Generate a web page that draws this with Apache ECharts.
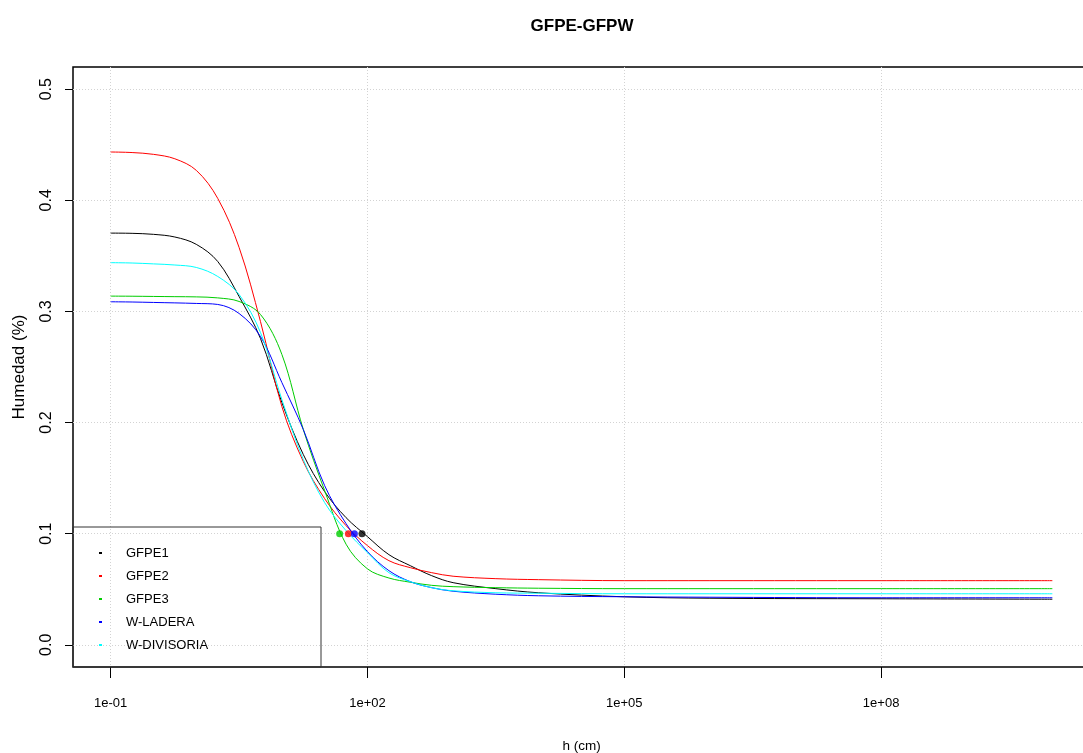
<!DOCTYPE html>
<html>
<head>
<meta charset="utf-8">
<script src="https://cdn.jsdelivr.net/npm/echarts@6/dist/echarts.min.js"></script>
<style>
html, body { margin: 0; padding: 0; background: #fff; overflow: hidden; }
#main { width: 1083px; height: 753px; }
</style>
</head>
<body>
<div id="main"></div>
<script>
// presion h (cm)
var hValues = [0.1, 0.178, 0.316, 0.562, 1, 1.78, 3.16, 5.62, 10, 17.8, 31.6, 56.2, 100, 178, 316, 562, 1000, 3160, 10000, 1e5, 1e6, 1e8, 1e10];

// humedad de cada curva en esos h
var gfpe1 = [0.3705, 0.3703, 0.3694, 0.3670, 0.3604, 0.3450, 0.3135, 0.2757, 0.2180, 0.1712, 0.1378, 0.1144, 0.0973, 0.0811, 0.0712, 0.0622, 0.0559, 0.0505, 0.0468, 0.0432, 0.0419, 0.0414, 0.0410];
var gfpe2 = [0.4435, 0.4430, 0.4414, 0.4374, 0.4270, 0.4018, 0.3577, 0.2910, 0.2144, 0.1649, 0.1315, 0.1072, 0.0892, 0.0757, 0.0694, 0.0649, 0.0617, 0.0595, 0.0586, 0.0577, 0.0577, 0.0577, 0.0577];
var gfpe3 = [0.3138, 0.3137, 0.3135, 0.3133, 0.3131, 0.3122, 0.3090, 0.2973, 0.2613, 0.1937, 0.1387, 0.0905, 0.0683, 0.0601, 0.0563, 0.0535, 0.0523, 0.0514, 0.0509, 0.0505, 0.0505, 0.0505, 0.0505];
var wLadera = [0.3087, 0.3085, 0.3081, 0.3077, 0.3072, 0.3063, 0.2982, 0.2775, 0.2360, 0.1937, 0.1432, 0.1090, 0.0838, 0.0667, 0.0568, 0.0514, 0.0482, 0.0455, 0.0441, 0.0432, 0.0428, 0.0423, 0.0423];
var wDivisoria = [0.3439, 0.3436, 0.3428, 0.3418, 0.3396, 0.3315, 0.3153, 0.2811, 0.2207, 0.1667, 0.1279, 0.1027, 0.0829, 0.0649, 0.0568, 0.0514, 0.0486, 0.0468, 0.0464, 0.0459, 0.0459, 0.0459, 0.0459];

var seriesNames = ["GFPE1", "GFPE2", "GFPE3", "W-LADERA", "W-DIVISORIA"];
var seriesColors = ["#000000", "#ff0000", "#00cd00", "#0000ff", "#00ffff"];

// puntos marcados sobre theta = 0.1
var pointH = [86.3, 59.8, 47.3, 70.3];
var pointTheta = [0.1, 0.1, 0.1, 0.1];

var xTicks = [0.1, 100, 1e5, 1e8];
var yTicks = [0, 0.1, 0.2, 0.3, 0.4, 0.5];

var font = "'Liberation Sans', Arial, sans-serif";

function expLabel(v) {
    var e = Math.round(Math.log10(v));
    var a = Math.abs(e);
    return '1e' + (e < 0 ? '-' : '+') + (a < 10 ? '0' + a : a);
}

function toPairs(arr) {
    var out = [];
    for (var i = 0; i < hValues.length; i++) {
        out.push([hValues[i], arr[i]]);
    }
    return out;
}

var curves = [gfpe1, gfpe2, gfpe3, wLadera, wDivisoria];
var series = [];
for (var i = 0; i < curves.length; i++) {
    series.push({
        name: seriesNames[i],
        type: 'line',
        data: toPairs(curves[i]),
        showSymbol: false,
        smooth: 0.35,
        color: seriesColors[i],
        lineStyle: { width: 1, color: seriesColors[i] },
        z: 3
    });
}

var pts = [];
for (var j = 0; j < pointH.length; j++) {
    pts.push({ value: [pointH[j], pointTheta[j]], itemStyle: { color: seriesColors[j] } });
}
series.push({
    name: 'puntos',
    type: 'scatter',
    data: pts,
    symbol: 'circle',
    symbolSize: 7,
    z: 4
});

var chart = echarts.init(document.getElementById("main"));
var option = {
    backgroundColor: '#ffffff',
    animation: false,
    title: {
        text: 'GFPE-GFPW',
        left: 577,
        textAlign: 'center',
        top: 13,
        textStyle: { fontFamily: font, fontSize: 17, fontWeight: 'bold', color: '#000' }
    },
    grid: {
        left: 73,
        right: -7,
        top: 67,
        bottom: 86,
        outerBoundsMode: 'none',
        show: true,
        borderColor: '#000',
        borderWidth: 1.5
    },
    legend: {
        data: seriesNames,
        orient: 'vertical',
        left: 73,
        top: 527,
        icon: 'rect',
        itemWidth: 3,
        itemHeight: 2,
        itemGap: 7,
        padding: [18, 0, 14, 26],
        borderColor: '#333',
        borderWidth: 1,
        borderRadius: 0,
        textStyle: {
            fontFamily: font,
            fontSize: 13,
            color: '#000',
            lineHeight: 16,
            width: 195,
            padding: [0, 0, 0, 19]
        }
    },
    xAxis: {
        type: 'log',
        logBase: 10,
        min: 0.0363,
        max: 2.754e10,
        name: 'h (cm)',
        nameLocation: 'middle',
        nameGap: 72,
        nameTextStyle: { fontFamily: font, fontSize: 13.5, color: '#000' },
        axisLine: { show: false, onZero: false },
        axisTick: { show: true, length: 11, customValues: xTicks, lineStyle: { color: '#000' } },
        axisLabel: {
            customValues: xTicks,
            formatter: expLabel,
            margin: 30,
            fontFamily: font,
            fontSize: 13,
            color: '#000'
        },
        splitLine: { show: true, lineStyle: { color: '#d3d3d3', type: [1, 2] } }
    },
    yAxis: {
        type: 'value',
        min: -0.02,
        max: 0.52,
        name: 'Humedad (%)',
        nameLocation: 'middle',
        nameGap: 45,
        nameTextStyle: { fontFamily: font, fontSize: 17, color: '#000' },
        axisLine: { show: false, onZero: false },
        axisTick: { show: true, length: 8, customValues: yTicks, lineStyle: { color: '#000' } },
        axisLabel: {
            customValues: yTicks,
            rotate: 90,
            margin: 18,
            formatter: function (v) { return v.toFixed(1); },
            fontFamily: font,
            fontSize: 16,
            color: '#000'
        },
        splitLine: { show: true, lineStyle: { color: '#d3d3d3', type: [1, 2] } }
    },
    series: series
};
chart.setOption(option);
</script>
</body>
</html>
